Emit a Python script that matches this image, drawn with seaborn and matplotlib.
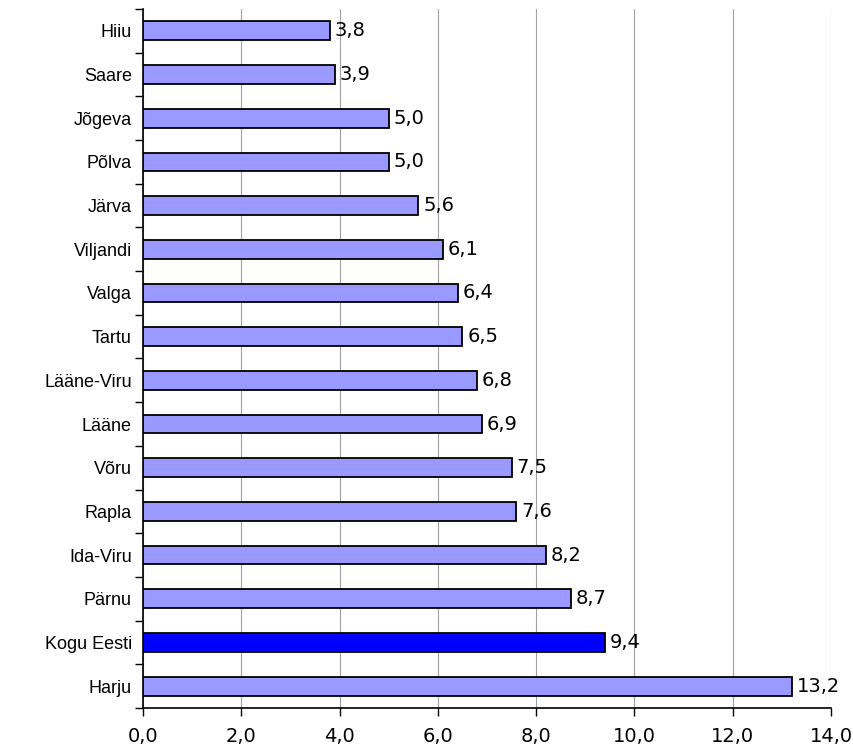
import numpy as np
import pandas as pd
import seaborn as sns
import matplotlib.pyplot as plt

# Data
regions = ["Hiiu", "Saare", "Jõgeva", "Põlva", "Järva", "Viljandi", "Valga", "Tartu",
           "Lääne-Viru", "Lääne", "Võru", "Rapla", "Ida-Viru", "Pärnu", "Kogu Eesti", "Harju"]
values = [3.8, 3.9, 5.0, 5.0, 5.6, 6.1, 6.4, 6.5, 6.8, 6.9, 7.5, 7.6, 8.2, 8.7, 9.4, 13.2]
xticks = [0, 2, 4, 6, 8, 10, 12, 14]

df = pd.DataFrame({"region": regions, "value": values})
colors = {r: ("#0000FF" if r == "Kogu Eesti" else "#9999FF") for r in regions}

sns.set_style("white")
plt.rcParams["font.family"] = ["Liberation Sans", "DejaVu Sans"]
plt.rcParams["text.color"] = "black"
plt.rcParams["xtick.color"] = "black"
plt.rcParams["ytick.color"] = "black"

fig = plt.figure(figsize=(8.54, 7.51), dpi=100)
ax = fig.add_axes([0.1675, 0.0573, 0.8055, 0.9307])

sns.barplot(data=df, x="value", y="region", hue="region", palette=colors, legend=False,
            orient="h", width=0.43, edgecolor="black", linewidth=1.3, saturation=1,
            ax=ax, zorder=3)

# value labels with comma decimals
for i, v in enumerate(values):
    ax.text(v + 0.1, i, f"{v:.1f}".replace(".", ","), va="center", ha="left",
            fontsize=14, family="DejaVu Sans", color="black")

ax.set_xlim(0, 14)
ax.set_ylim(len(regions) - 0.5, -0.5)
ax.set_xticks(xticks)
ax.set_xticklabels([f"{t:.1f}".replace(".", ",") for t in xticks], fontsize=14,
                   family="DejaVu Sans")
ax.set_yticks(range(len(regions)))
ax.set_yticklabels(regions, fontsize=13)
ax.set_yticks(np.arange(-0.5, len(regions), 1), minor=True)
ax.tick_params(axis="y", which="major", length=0, pad=8)
ax.tick_params(axis="y", which="minor", length=6, width=1, direction="out", left=True)
ax.tick_params(axis="x", length=6, width=1, direction="out", bottom=True, pad=8)

ax.grid(axis="x", color="#A0A0A0", linewidth=0.8, zorder=0)
ax.set_axisbelow(True)
for s in ["top", "right"]:
    ax.spines[s].set_visible(False)
for s in ["left", "bottom"]:
    ax.spines[s].set_color("black")
    ax.spines[s].set_linewidth(1.2)
ax.set_xlabel("")
ax.set_ylabel("")

fig.savefig("out.png", dpi=100)
